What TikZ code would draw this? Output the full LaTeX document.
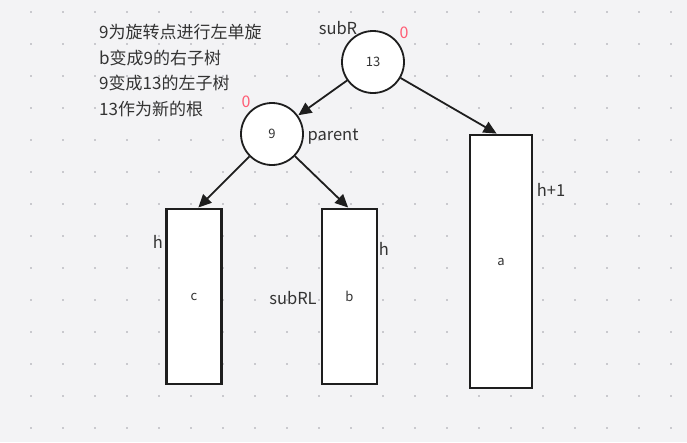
\documentclass[tikz,border=0pt]{standalone}
\usepackage{fontspec}
\setmainfont{Noto Sans CJK SC}
\usetikzlibrary{arrows.meta}
\definecolor{bg}{HTML}{F3F3F5}
\definecolor{dotc}{HTML}{C9C9CE}
\definecolor{ink}{HTML}{1E1E1E}
\definecolor{txt}{HTML}{333333}
\definecolor{bal}{HTML}{FF5C74}
\tikzset{
  tnode/.style={circle, draw=ink, line width=1.8pt, fill=white, minimum size=62pt, inner sep=0pt, font=\fontsize{13}{13}\selectfont, text=txt},
  tbox/.style={rectangle, draw=ink, line width=2.3pt, fill=white, inner sep=0pt, font=\fontsize{13}{13}\selectfont, text=txt},
  lbl/.style={font=\fontsize{16.5}{16.5}\selectfont, text=txt, inner sep=0pt},
  baltxt/.style={font=\fontsize{16}{16}\selectfont, text=bal, inner sep=0pt},
  note/.style={font=\fontsize{17}{17}\selectfont, text=txt, inner sep=0pt, anchor=west},
  arr/.style={draw=ink, line width=1.8pt, -{Triangle[length=13pt,width=12pt]}, shorten >=0.5pt}
}
\begin{document}
\begin{tikzpicture}[x=1pt,y=-1pt]
\fill[bg] (0,0) rectangle (687,442);
\useasboundingbox (0,0) rectangle (687,442);
\foreach \i in {0,...,21} {
  \foreach \j in {0,...,13} {
    \fill[dotc] ({31+32*\i-1},{12+32*\j-1}) rectangle ({31+32*\i+1},{12+32*\j+1});
  }
}
% notes
\node[note] (l1) at (99,32) {9为旋转点进行左单旋};
\node[note] (l2) at (99,58) {b变成9的右子树};
\node[note] (l3) at (99,83) {9变成13的左子树};
\node[note] (l4) at (99,109) {13作为新的根};
% tree nodes
\node[tnode] (n13) at (373,62) {13};
\node[tnode] (n9) at (272,134) {9};
\node[tbox, minimum width=55pt, minimum height=175pt] (c) at (194,296.5) {c};
\node[tbox, minimum width=55pt, minimum height=175pt] (b) at (349.5,296.5) {b};
\node[tbox, minimum width=62pt, minimum height=253pt] (a) at (501,261.5) {a};
% labels
\node[lbl] (subR) at (338,28) {subR};
\node[baltxt] (z13) at (404,33) {0};
\node[baltxt] (z9) at (246,102) {0};
\node[lbl] (parent) at (333,137) {parent};
\node[lbl] (hc) at (158,242) {h};
\node[lbl] (hb) at (384,249) {h};
\node[lbl] (subRL) at (293,298) {subRL};
\node[lbl] (ha) at (551,190) {h+1};
% connectors
\draw[arr] (n13) -- (n9);
\draw[arr] (n13) -- ([xshift=-4pt]a.north);
\draw[arr] (n9) -- ([xshift=4pt]c.north);
\draw[arr] (n9) -- ([xshift=-1pt]b.north);
\end{tikzpicture}
\end{document}
